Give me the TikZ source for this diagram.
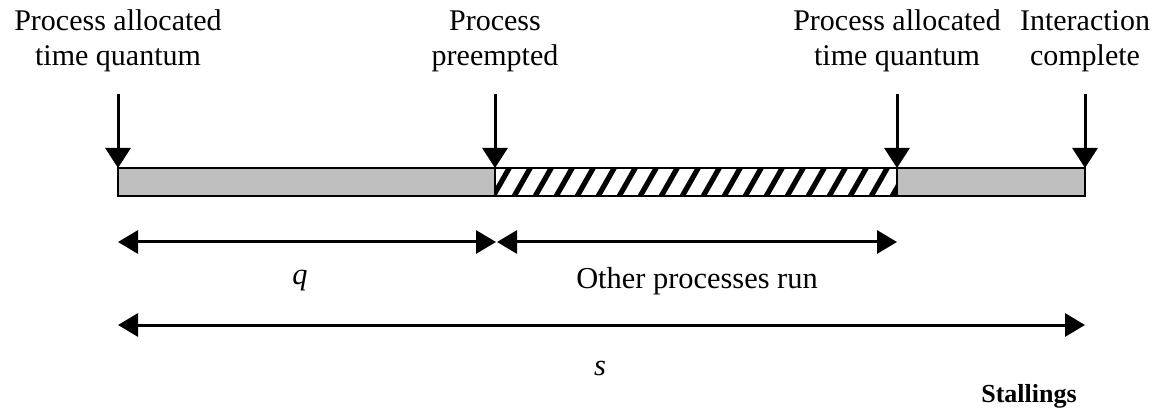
\documentclass[tikz,border=0pt]{standalone}
\usepackage{fontspec}
\setmainfont{Liberation Serif}
\usetikzlibrary{arrows.meta}
\begin{document}
\begin{tikzpicture}[x=0.5pt,y=-0.5pt,
  lbl/.style={font=\fontsize{15}{17.5}\selectfont, align=center, inner sep=0pt, anchor=base},
  dimlbl/.style={font=\fontsize{15.2}{17.5}\selectfont, inner sep=0pt, anchor=base},
  marker/.style={line width=1.5pt, -{Triangle[width=12.5pt,length=10pt]}},
  dimarrow/.style={line width=1.5pt, {Triangle[width=11.5pt,length=10pt]}-{Triangle[width=11.5pt,length=10pt]}},
  barframe/.style={line width=1.3pt},
  hatch/.style={line width=2.6pt}]
\useasboundingbox (0,0) rectangle (1156,411);
% labels (anchored at the baseline of the last line)
\node[lbl] (l1) at (118,66) {Process allocated\\time quantum};
\node[lbl] (l2) at (495,66) {Process\\preempted};
\node[lbl] (l3) at (897,66) {Process allocated\\time quantum};
\node[lbl] (l4) at (1085,66) {Interaction\\complete};
% coordinates
\coordinate (t1) at (118,94);  \coordinate (b1) at (118,168);
\coordinate (t2) at (495,94);  \coordinate (b2) at (495,168);
\coordinate (t3) at (897,94);  \coordinate (b3) at (897,168);
\coordinate (t4) at (1085,94); \coordinate (b4) at (1085,168);
% bar
\fill[black!25] (118,168) rectangle (495,196);
\fill[black!25] (897,168) rectangle (1085,196);
\begin{scope}
  \clip (495,168) rectangle (897,196);
  \foreach \x in {470,491,...,910} {
    \draw[hatch] (\x,200) -- (\x+20.5,164);
  }
\end{scope}
\draw[barframe] (118,168) rectangle (1085,196);
\draw[line width=0.8pt] (495,168) -- (495,196);
\draw[line width=0.8pt] (897,168) -- (897,196);
% markers
\draw[marker] (t1) -- (b1);
\draw[marker] (t2) -- (b2);
\draw[marker] (t3) -- (b3);
\draw[marker] (t4) -- (b4);
% dimension arrows
\coordinate (d1) at (118,242);
\coordinate (d2) at (496,242);
\coordinate (d3) at (497,242);
\coordinate (d4) at (897,242);
\coordinate (e1) at (118,325);
\coordinate (e2) at (1085,325);
\draw[dimarrow] (d1) -- (d2);
\draw[dimarrow] (d3) -- (d4);
\draw[dimarrow] (e1) -- (e2);
\node[dimlbl] (q) at (300,285) {\textit{q}};
\node[dimlbl] (o) at (697,288) {Other processes run};
\node[dimlbl] (s) at (600,375) {\textit{s}};
\node[font=\fontsize{13}{15}\selectfont\bfseries, inner sep=0pt, anchor=base] (st) at (1029,402) {Stallings};
\end{tikzpicture}
\end{document}
